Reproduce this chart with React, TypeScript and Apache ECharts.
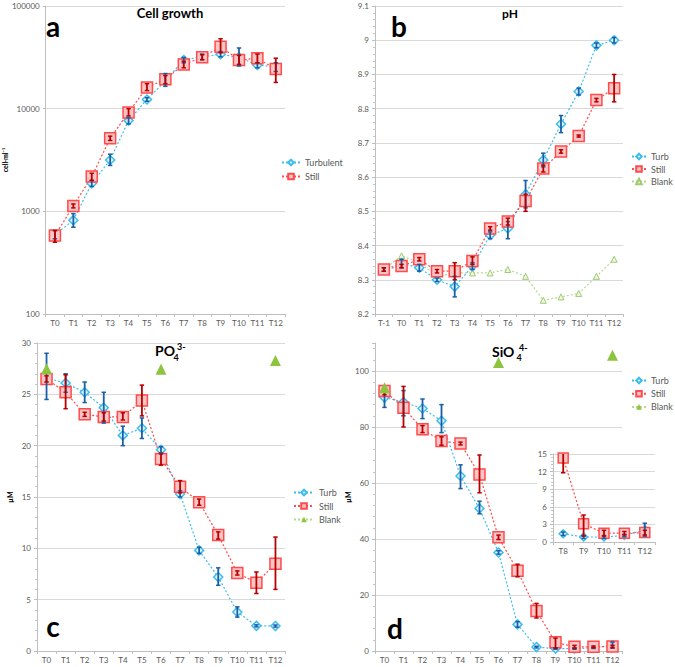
import React, { useEffect, useRef } from "react";
import * as echarts from "echarts";

const FONT = 'Lato, "Liberation Sans", Arial, sans-serif';

// ---- categories ----
const catsA = ["T0", "T1", "T2", "T3", "T4", "T5", "T6", "T7", "T8", "T9", "T10", "T11", "T12"];
const catsB = ["T-1", "T0", "T1", "T2", "T3", "T4", "T5", "T6", "T7", "T8", "T9", "T10", "T11", "T12"];
const catsInset = ["T8", "T9", "T10", "T11", "T12"];

// ---- a: cell growth (cell/ml) ----
const cellTurb = [590, 820, 1870, 3160, 7650, 12300, 18600, 29800, 32000, 33900, 31600, 26600, 25600];
const cellTurbErr = [[540, 650], [700, 950], [1750, 2000], [2800, 3600], [7100, 8200], [11800, 12800], [16500, 22000], [28000, 31500], [30000, 34000], [32000, 36000], [26000, 39000], [25000, 28000], [23000, 28000]];
const cellStill = [580, 1130, 2180, 5140, 9200, 16100, 19300, 27000, 31600, 40200, 29800, 30900, 24300];
const cellStillErr = [[500, 650], [1080, 1180], [2000, 2350], [4900, 5400], [8500, 10000], [15000, 17500], [17500, 21000], [25000, 29000], [30000, 33500], [35000, 48000], [27000, 33000], [28000, 34000], [18000, 31000]];

// ---- b: pH ----
const phTurb = [8.33, 8.348, 8.335, 8.3, 8.28, 8.34, 8.43, 8.45, 8.55, 8.65, 8.755, 8.85, 8.985, 9.0];
const phTurbErr = [[8.325, 8.335], [8.335, 8.36], [8.325, 8.345], [8.295, 8.305], [8.25, 8.31], [8.33, 8.35], [8.42, 8.44], [8.42, 8.47], [8.51, 8.59], [8.63, 8.67], [8.73, 8.78], [8.84, 8.86], [8.978, 8.992], [8.992, 9.008]];
const phStill = [8.33, 8.34, 8.36, 8.325, 8.325, 8.355, 8.45, 8.47, 8.53, 8.625, 8.675, 8.72, 8.825, 8.86];
const phStillErr = [[8.325, 8.335], [8.335, 8.345], [8.355, 8.365], [8.32, 8.33], [8.3, 8.35], [8.345, 8.367], [8.445, 8.455], [8.46, 8.48], [8.5, 8.55], [8.615, 8.635], [8.67, 8.68], [8.717, 8.723], [8.82, 8.83], [8.82, 8.9]];
const phBlank = [8.33, 8.37, 8.35, 8.31, 8.32, 8.32, 8.32, 8.33, 8.31, 8.24, 8.25, 8.26, 8.31, 8.36];

// ---- c: PO4 (µM) ----
const poTurb = [26.6, 26.1, 25.2, 23.7, 21.0, 21.7, 19.6, 15.3, 9.8, 7.2, 3.8, 2.45, 2.43];
const poTurbErr = [[24.5, 29.0], [25.2, 27.0], [24.2, 26.2], [22.2, 25.2], [20.0, 21.9], [20.7, 22.7], [19.3, 19.9], [15.0, 15.6], [9.5, 10.1], [6.4, 8.1], [3.3, 4.3], [2.35, 2.55], [2.33, 2.53]];
const poStill = [26.5, 25.2, 23.05, 22.8, 22.8, 24.4, 18.7, 16.0, 14.5, 11.3, 7.6, 6.65, 8.5];
const poStillErr = [[26.2, 26.8], [23.6, 26.9], [22.85, 23.25], [22.4, 23.2], [22.5, 23.2], [22.9, 25.9], [18.1, 19.2], [15.4, 16.6], [14.2, 14.8], [10.9, 11.6], [7.4, 7.8], [5.6, 7.7], [6.0, 11.1]];
const poBlank = [27.5, null, null, null, null, null, 27.45, null, null, null, null, null, 28.3];

// ---- d: SiO4 (µM) ----
const siTurb = [90.5, 88.9, 86.6, 82.2, 62.5, 50.9, 35.2, 9.5, 1.4, 0.85, 0.85, 1.1, 2.1];
const siTurbErr = [[87, 94], [84, 93], [83, 90], [78, 88], [58, 66.5], [49, 53.5], [34.6, 35.8], [8.5, 10.5], [1.1, 1.7], [0.6, 1.1], [0.6, 1.1], [0.9, 1.3], [1.0, 3.2]];
const siStill = [92.9, 86.9, 79.2, 75.0, 74.1, 63.0, 40.6, 28.7, 14.3, 3.1, 1.5, 1.5, 1.6];
const siStillErr = [[91.5, 94], [80, 94.5], [78, 80.5], [73.5, 76.5], [73.6, 74.6], [56.5, 70], [39.8, 41.4], [26.5, 31], [11.8, 17], [1.0, 4.6], [1.0, 2.0], [1.2, 1.8], [1.2, 2.0]];
const siBlank = [94, null, null, null, null, null, 103, null, null, null, null, null, 105.6];
const INSET_FROM = 8;

const TURB = "#3dbdee";
const TURB_ERR = "#1a5fa8";
const STILL = "#ff4b4b";
const STILL_ERR = "#b80000";
const BLANK_LINE = "#b3d98c";
const BLANK_FILL = "#8cc43e";

function xAxis(gridIndex: number, data: string[], extra: any = {}) {
  return {
    type: "category",
    gridIndex,
    data,
    boundaryGap: true,
    axisLine: { show: true, lineStyle: { color: "#bfbfbf" } },
    axisTick: { show: true, length: 3, interval: 0, lineStyle: { color: "#bfbfbf" } },
    axisLabel: { interval: 0, color: "#595959", fontSize: 8, fontFamily: FONT, margin: 5 },
    splitLine: { show: false },
    ...extra,
  };
}

function yAxis(gridIndex: number, extra: any = {}) {
  return {
    gridIndex,
    axisLine: { show: true, lineStyle: { color: "#bfbfbf" } },
    axisTick: { show: true, length: 3, lineStyle: { color: "#bfbfbf" } },
    minorTick: { show: true, splitNumber: 5, length: 2, lineStyle: { color: "#c8c8c8" } },
    axisLabel: { color: "#595959", fontSize: 8, fontFamily: FONT, margin: 6 },
    splitLine: { show: true, lineStyle: { color: "#d9d9d9", width: 1 } },
    ...extra,
  };
}

function turbSeries(name: string, idx: number, data: any[], z = 3, size = 9) {
  return {
    type: "line",
    name,
    xAxisIndex: idx,
    yAxisIndex: idx,
    data,
    symbol: "diamond",
    symbolSize: size,
    showAllSymbol: true,
    z,
    lineStyle: { color: TURB, width: 1.2, type: [2, 2] },
    itemStyle: { color: "#e2f5fd", borderColor: TURB, borderWidth: 1.5 },
  };
}

function stillSeries(name: string, idx: number, data: any[], z = 3, size = 11) {
  return {
    type: "line",
    name,
    xAxisIndex: idx,
    yAxisIndex: idx,
    data,
    symbol: "rect",
    symbolSize: size,
    showAllSymbol: true,
    z,
    lineStyle: { color: STILL, width: 1.2, type: [2, 2] },
    itemStyle: { color: "#ffc4c4", borderColor: STILL, borderWidth: 1.5 },
  };
}

function errSeries(name: string, idx: number, err: number[][], color: string, z = 5, clip = false) {
  return {
    type: "custom",
    name,
    xAxisIndex: idx,
    yAxisIndex: idx,
    z,
    clip,
    encode: { x: 0, y: [1, 2] },
    data: err.map((e, i) => [i, e[0], e[1]]),
    renderItem: (params: any, api: any) => {
      const x = api.value(0);
      const lo = api.coord([x, api.value(1)]);
      const hi = api.coord([x, api.value(2)]);
      const w = 2.2;
      return {
        type: "group",
        children: [
          { type: "line", shape: { x1: lo[0], y1: lo[1], x2: hi[0], y2: hi[1] }, style: { stroke: color, lineWidth: 1.8 } },
          { type: "line", shape: { x1: lo[0] - w, y1: lo[1], x2: lo[0] + w, y2: lo[1] }, style: { stroke: color, lineWidth: 1.5 } },
          { type: "line", shape: { x1: hi[0] - w, y1: hi[1], x2: hi[0] + w, y2: hi[1] }, style: { stroke: color, lineWidth: 1.5 } },
        ],
      };
    },
  };
}

function legend(left: number, top: number, itemWidth: number, gap: number, data: string[]) {
  return {
    orient: "vertical",
    left,
    top,
    itemWidth,
    itemHeight: 7,
    itemGap: gap,
    data,
    formatter: (n: string) => n.split("_")[0],
    textStyle: { color: "#595959", fontSize: 9, fontFamily: FONT },
  };
}

function txt(text: string, x: number, y: number, size: number, align = "center", vAlign = "middle") {
  return {
    type: "text",
    x,
    y,
    z: 20,
    style: { text, fontSize: size, fontWeight: "bold", fontFamily: FONT, fill: "#000", align, verticalAlign: vAlign },
  };
}

export default function App() {
  const ref = useRef<HTMLDivElement>(null);
  useEffect(() => {
    if (!ref.current) return;
    const chart = echarts.init(ref.current, null, { renderer: "svg" });
    const option: any = {
      animation: false,
      backgroundColor: "#ffffff",
      grid: [
        { left: 37, top: 6, width: 248, height: 308 },
        { left: 375, top: 6, width: 248, height: 308 },
        { left: 37, top: 343, width: 248, height: 308 },
        { left: 375, top: 343, width: 247, height: 308 },
        { left: 553, top: 454, width: 102, height: 88, z: 6 },
      ],
      xAxis: [
        xAxis(0, catsA),
        xAxis(1, catsB),
        xAxis(2, catsA),
        xAxis(3, catsA),
        xAxis(4, catsInset, { z: 6 }),
      ],
      yAxis: [
        yAxis(0, {
          type: "log",
          logBase: 10,
          min: 100,
          max: 100000,
          minorTick: { show: false },
          axisLabel: { color: "#595959", fontSize: 8, fontFamily: FONT, margin: 6, formatter: (v: number) => String(Math.round(v)) },
          name: "cell·ml⁻¹",
          nameLocation: "middle",
          nameRotate: 90,
          nameGap: 25,
          nameTextStyle: { fontSize: 7, fontWeight: "bold", color: "#000", fontFamily: FONT },
        }),
        yAxis(1, { type: "value", min: 8.2, max: 9.1, interval: 0.1 }),
        yAxis(2, {
          type: "value",
          min: 0,
          max: 30,
          interval: 5,
          name: "µM",
          nameLocation: "middle",
          nameRotate: 90,
          nameGap: 24,
          nameTextStyle: { fontSize: 7, fontWeight: "bold", color: "#000", fontFamily: FONT },
        }),
        yAxis(3, {
          type: "value",
          min: 0,
          max: 110,
          interval: 20,
          axisLabel: { color: "#595959", fontSize: 8, fontFamily: FONT, margin: 6, showMaxLabel: false },
          splitLine: { show: true, showMaxLine: false, lineStyle: { color: "#d9d9d9", width: 1 } },
          name: "µM",
          nameLocation: "middle",
          nameRotate: 90,
          nameGap: 22,
          nameTextStyle: { fontSize: 7, fontWeight: "bold", color: "#000", fontFamily: FONT },
        }),
        yAxis(4, { type: "value", min: 0, max: 15, interval: 3, z: 6 }),
      ],
      legend: [
        legend(276, 153, 18, 5, ["Turbulent", "Still_a"]),
        legend(626, 147, 14, 3.5, ["Turb_b", "Still_b", "Blank_b"]),
        legend(288, 483, 20, 4.5, ["Turb_c", "Still_c", "Blank_c"]),
        legend(626, 371, 14, 4.2, ["Turb_d", "Still_d", "Blank_d"]),
      ],
      graphic: [
        { type: "rect", shape: { x: 537, y: 440, width: 130, height: 124 }, style: { fill: "#ffffff" }, z: 5 },
        txt("Cell growth", 170, 12.5, 13),
        txt("a", 53, 26, 28),
        txt("pH", 510, 13.5, 12),
        txt("b", 399, 26, 28),
        txt("c", 53, 626, 28),
        txt("d", 395, 628, 28),
        txt("PO", 155, 350.5, 14, "left"),
        txt("4", 173.5, 357, 9, "left"),
        txt("3-", 177, 346, 9, "left"),
        txt("SiO", 492, 351, 14, "left"),
        txt("4", 516.5, 357.5, 9, "left"),
        txt("4-", 519, 347, 9, "left"),
      ],
      series: [
        // a
        turbSeries("Turbulent", 0, cellTurb),
        stillSeries("Still_a", 0, cellStill),
        errSeries("errTa", 0, cellTurbErr, TURB_ERR),
        errSeries("errSa", 0, cellStillErr, STILL_ERR),
        // b
        {
          type: "line",
          name: "Blank_b",
          xAxisIndex: 1,
          yAxisIndex: 1,
          data: phBlank,
          symbol: "triangle",
          symbolSize: 6,
          z: 2,
          lineStyle: { color: BLANK_LINE, width: 1.2, type: [2, 2] },
          itemStyle: { color: "#eef7e4", borderColor: "#9fcb70", borderWidth: 1 },
        },
        turbSeries("Turb_b", 1, phTurb),
        stillSeries("Still_b", 1, phStill),
        errSeries("errTb", 1, phTurbErr, TURB_ERR),
        errSeries("errSb", 1, phStillErr, STILL_ERR),
        // c
        turbSeries("Turb_c", 2, poTurb),
        stillSeries("Still_c", 2, poStill),
        errSeries("errTc", 2, poTurbErr, TURB_ERR),
        errSeries("errSc", 2, poStillErr, STILL_ERR),
        {
          type: "line",
          name: "Blank_c",
          xAxisIndex: 2,
          yAxisIndex: 2,
          data: poBlank,
          connectNulls: false,
          symbol: "triangle",
          symbolSize: 11,
          z: 6,
          lineStyle: { color: BLANK_LINE, width: 1.2, type: [2, 2] },
          itemStyle: { color: BLANK_FILL },
        },
        // d
        turbSeries("Turb_d", 3, siTurb),
        stillSeries("Still_d", 3, siStill),
        errSeries("errTd", 3, siTurbErr, TURB_ERR),
        errSeries("errSd", 3, siStillErr, STILL_ERR),
        {
          type: "line",
          name: "Blank_d",
          xAxisIndex: 3,
          yAxisIndex: 3,
          data: siBlank,
          connectNulls: false,
          symbol: "triangle",
          symbolSize: 11,
          z: 6,
          clip: false,
          lineStyle: { color: BLANK_LINE, width: 1.2, type: [2, 2] },
          itemStyle: { color: BLANK_FILL },
        },
        // inset
        turbSeries("Turb_i", 4, siTurb.slice(INSET_FROM), 7, 8),
        stillSeries("Still_i", 4, siStill.slice(INSET_FROM), 7, 10),
        errSeries("errTi", 4, siTurbErr.slice(INSET_FROM), TURB_ERR, 8, true),
        errSeries("errSi", 4, siStillErr.slice(INSET_FROM), STILL_ERR, 8, true),
      ],
    };
    chart.setOption(option);
    return () => chart.dispose();
  }, []);
  return (
    <div
      ref={ref}
      style={{ position: "fixed", left: 0, top: 0, width: 675, height: 667, background: "#fff" }}
    />
  );
}
